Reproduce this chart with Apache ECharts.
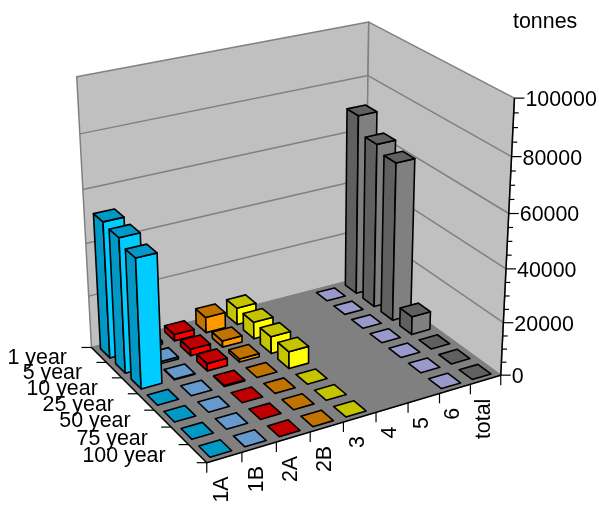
<!DOCTYPE html>
<html>
<head>
<meta charset="utf-8">
<style>html,body{margin:0;padding:0;background:#fff}#main{width:599px;height:505px}</style>
<script src="https://cdn.jsdelivr.net/npm/echarts@6/dist/echarts.min.js"></script>
</head>
<body>
<div id="main"></div>
<script>
var categories = ['1A', '1B', '2A', '2B', '3', '4', '5', '6', 'total'];
var years = ['1 year', '5 year', '10 year', '25 year', '50 year', '75 year', '100 year'];
var zTicks = [0, 20000, 40000, 60000, 80000, 100000];
var zMinorTicks = [5000, 10000, 15000, 25000, 30000, 35000, 45000, 50000, 55000, 65000, 70000, 75000, 85000, 90000, 95000];

// one list per category, values in the order of years
var values1A = [51500, 50700, 48500, 0, 0, 0, 0];
var values1B = [1200, 800, 300, 0, 0, 0, 0];
var values2A = [2500, 2500, 2800, 400, 0, 0, 0];
var values2B = [6000, 2400, 1200, 0, 0, 0, 0];
var values3 = [6500, 6500, 6500, 6500, 0, 0, 0];
var values6 = [0, 0, 0, 0, 0, 0, 0];
var valuesTotal = [70000, 63500, 61000, 7000, 0, 0, 0];
var columns = {0: values1A, 1: values1B, 2: values2A, 3: values2B, 4: values3, 7: values6, 8: valuesTotal};

// [right/front face, left face and top]
var colors = {
    0: ['#00ccff', '#0099c6'],
    1: ['#6699cc', '#6699cc'],
    2: ['#ff0000', '#c00000'],
    3: ['#ff9900', '#c07300'],
    4: ['#ffff00', '#c4c400'],
    7: ['#9999cc', '#9999cc'],
    8: ['#808080', '#606060']
};

var W = 599, H = 505, GAP = 0.19;
var LABEL_FONT = '21.4px "Liberation Sans", Arial, sans-serif';

// box corners (x, depth, height) and where they sit in the picture
var cameraPoints = [
    [0, 0, 0, 207, 463],
    [1, 0, 0, 500, 375],
    [0, 1, 0, 91, 347],
    [1, 1, 0, 366, 277],
    [1, 0, 1, 515, 98],
    [0, 1, 1, 77, 77],
    [1, 1, 1, 368, 22]
];

function solve(A, b) {
    var n = b.length, i, j, k;
    for (i = 0; i < n; i++) {
        var p = i;
        for (j = i + 1; j < n; j++) if (Math.abs(A[j][i]) > Math.abs(A[p][i])) p = j;
        var t = A[i]; A[i] = A[p]; A[p] = t;
        t = b[i]; b[i] = b[p]; b[p] = t;
        for (j = i + 1; j < n; j++) {
            var f = A[j][i] / A[i][i];
            for (k = i; k < n; k++) A[j][k] -= f * A[i][k];
            b[j] -= f * b[i];
        }
    }
    var out = [];
    for (i = n - 1; i >= 0; i--) {
        var s = b[i];
        for (j = i + 1; j < n; j++) s -= A[i][j] * out[j];
        out[i] = s / A[i][i];
    }
    return out;
}

// least squares fit of the 3x4 projection
function fitCamera(pts) {
    var rows = [], rhs = [];
    pts.forEach(function (p) {
        var x = p[0], y = p[1], z = p[2], u = p[3], v = p[4];
        rows.push([x, y, z, 1, 0, 0, 0, 0, -u * x, -u * y, -u * z]); rhs.push(u);
        rows.push([0, 0, 0, 0, x, y, z, 1, -v * x, -v * y, -v * z]); rhs.push(v);
    });
    var AtA = [], Atb = [];
    for (var i = 0; i < 11; i++) {
        AtA.push([]); Atb.push(0);
        for (var j = 0; j < 11; j++) {
            var s = 0;
            rows.forEach(function (r) { s += r[i] * r[j]; });
            AtA[i].push(s);
        }
        rows.forEach(function (r, k) { Atb[i] += r[i] * rhs[k]; });
    }
    return solve(AtA, Atb);
}
var cam = fitCamera(cameraPoints);

function project(x, y, z) {
    var w = cam[8] * x + cam[9] * y + cam[10] * z + 1;
    return [
        (cam[0] * x + cam[1] * y + cam[2] * z + cam[3]) / w,
        (cam[4] * x + cam[5] * y + cam[6] * z + cam[7]) / w
    ];
}

function poly(points, fill, stroke, lw) {
    return {
        type: 'polygon',
        shape: {points: points},
        style: {fill: fill, stroke: stroke, lineWidth: lw, lineJoin: 'round'}
    };
}
function line(a, b, stroke, lw) {
    return {
        type: 'line',
        shape: {x1: a[0], y1: a[1], x2: b[0], y2: b[1]},
        style: {stroke: stroke, lineWidth: lw}
    };
}
function label(text, x, y, align, rotation) {
    return {
        type: 'text', x: x, y: y, rotation: rotation || 0,
        style: {text: text, fill: '#000', align: align, verticalAlign: 'middle', font: LABEL_FONT}
    };
}

// height on the library's value axis, as a 0..1 fraction of the wall
function zFrac(api, v) {
    return 1 - api.coord([0, v])[1] / H;
}

function renderFrame(params, api) {
    var kids = [], grey = '#808080';
    function P(x, y, z) { return project(x, y, z); }
    // floor and the two walls
    kids.push(poly([P(0, 1, 0), P(1, 1, 0), P(1, 1, 1), P(0, 1, 1)], '#c0c0c0', grey, 1.5));
    kids.push(poly([P(1, 1, 0), P(1, 0, 0), P(1, 0, 1), P(1, 1, 1)], '#c0c0c0', grey, 1.5));
    kids.push(poly([P(0, 0, 0), P(1, 0, 0), P(1, 1, 0), P(0, 1, 0)], '#808080', grey, 1));
    zTicks.forEach(function (v) {
        var z = zFrac(api, v);
        if (v > 0 && v < 100000) {
            kids.push(line(P(0, 1, z), P(1, 1, z), grey, 1.5));
            kids.push(line(P(1, 1, z), P(1, 0, z), grey, 1.5));
        }
        var q = P(1, 0, z);
        kids.push(line(q, [q[0] + 10, q[1]], '#000', 1.2));
        kids.push(label(String(v), q[0] + 11, q[1] + 2, 'left'));
    });
    zMinorTicks.forEach(function (v) {
        var q = P(1, 0, zFrac(api, v));
        kids.push(line(q, [q[0] + 5, q[1]], '#000', 1.2));
    });
    kids.push(line(P(0, 0, 0), P(1, 0, 0), '#000', 1.5));
    kids.push(line(P(0, 0, 0), P(0, 1, 0), '#000', 1.5));
    kids.push(line(P(1, 0, 0), P(1, 0, 1), '#000', 1.5));
    // category ticks and labels along the front edge
    var i, q;
    for (i = 0; i <= categories.length; i++) {
        q = P(i / categories.length, 0, 0);
        kids.push(line(q, [q[0], q[1] + 10], '#000', 1.2));
        if (i < categories.length) {
            q = P((i + 0.5) / categories.length, 0, 0);
            kids.push(label(categories[i], q[0] - 2, q[1] + 19, 'right', Math.PI / 2));
        }
    }
    // year ticks and labels along the left edge
    for (i = 0; i <= years.length; i++) {
        q = P(0, 1 - i / years.length, 0);
        kids.push(line(q, [q[0] - 10, q[1]], '#000', 1.2));
        if (i < years.length) {
            q = P(0, 1 - (i + 0.5) / years.length, 0);
            kids.push(label(years[i], q[0] - 32, q[1] + 3, 'right'));
        }
    }
    return {type: 'group', children: kids};
}

function renderBar(params, api) {
    var cat = api.value(0), row = api.value(1), val = api.value(2);
    var band = api.size([1, 0])[0] / W;
    var xMid = api.coord([cat, 0])[0] / W;
    var x0 = xMid - band * (0.5 - GAP), x1 = xMid + band * (0.5 - GAP);
    var depth = 1 / years.length;
    var y1 = 1 - row * depth - depth * GAP, y0 = 1 - (row + 1) * depth + depth * GAP;
    var z = zFrac(api, val);
    var c = colors[cat], kids = [];
    if (val > 0) {
        kids.push(poly([project(x0, y0, 0), project(x0, y1, 0), project(x0, y1, z), project(x0, y0, z)], c[1], '#000', 1.6));
        kids.push(poly([project(x0, y0, 0), project(x1, y0, 0), project(x1, y0, z), project(x0, y0, z)], c[0], '#000', 1.6));
    }
    kids.push(poly([project(x0, y0, z), project(x1, y0, z), project(x1, y1, z), project(x0, y1, z)], c[1], '#000', 1.6));
    return {type: 'group', children: kids};
}

// painter's order: far rows first, right columns first
var barData = [];
years.forEach(function (y, r) {
    for (var c = categories.length - 1; c >= 0; c--) {
        if (columns[c]) barData.push([c, r, columns[c][r]]);
    }
});

var chart = echarts.init(document.getElementById('main'));
chart.setOption({
    animation: false,
    grid: {left: 0, right: 0, top: 0, bottom: 0},
    xAxis: {type: 'category', data: categories, show: false},
    yAxis: {type: 'value', min: 0, max: 100000, show: false},
    graphic: [{
        type: 'text', x: 513, y: 22,
        style: {text: 'tonnes', fill: '#000', verticalAlign: 'middle', font: LABEL_FONT}
    }],
    series: [
        {type: 'custom', silent: true, z: 1, clip: false, data: [[0, 0, 0]], encode: {x: 0, y: 2}, renderItem: renderFrame},
        {type: 'custom', silent: true, z: 2, clip: false, data: barData, encode: {x: 0, y: 2}, renderItem: renderBar}
    ]
});
</script>
</body>
</html>
